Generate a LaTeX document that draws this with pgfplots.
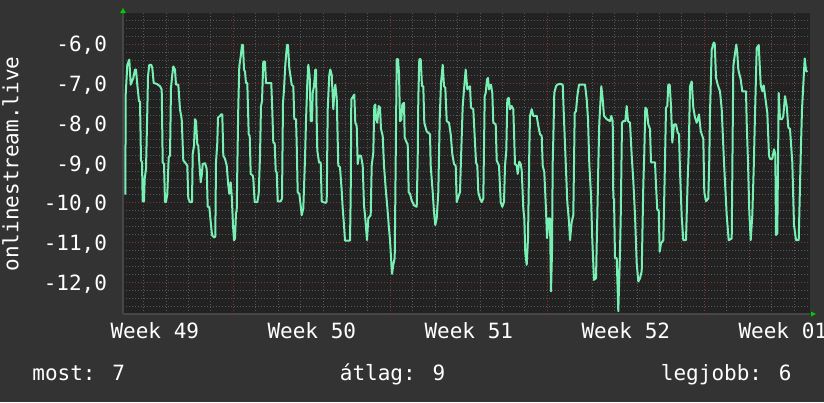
\documentclass[border=0pt]{standalone}
\usepackage{fontspec}
\setmainfont{DejaVu Sans Mono}
\usepackage{pgfplots}
\pgfplotsset{compat=1.18}

\definecolor{outerbg}{RGB}{51,51,51}
\definecolor{plotbg}{RGB}{34,34,34}
\definecolor{minorgrid}{RGB}{88,88,88}
\definecolor{majorgrid}{RGB}{125,55,55}
\definecolor{axisgray}{RGB}{70,70,70}
\definecolor{linecol}{RGB}{120,240,180}
\definecolor{arrowgreen}{RGB}{0,205,0}

\begin{document}
\fontsize{10.5}{13}\selectfont
\begin{tikzpicture}
% 1px = 0.5pt, page 824x402 px
\useasboundingbox (0,0) rectangle (412pt,201pt);
\fill[outerbg] (0,0) rectangle (412pt,201pt);

\begin{axis}[
  at={(61.5pt,44pt)}, anchor=south west,
  scale only axis, width=343.5pt, height=150.4pt,
  xmin=123, xmax=810, ymin=-12.8, ymax=-5.22,
  axis background/.style={fill=plotbg},
  axis x line*=bottom, axis y line*=left,
  axis line style={draw=axisgray, line width=1pt, -},
  xtick={154.8,311.8,468.8,625.8,782.8},
  xticklabels={Week 49,Week 50,Week 51,Week 52,Week 01},
  extra x ticks={233.3,390.3,547.3,704.3},
  extra x tick labels={},
  extra x tick style={grid=major},
  minor xtick={143.58,166.01,...,809},
  ytick={-12,-11,...,-6},
  yticklabels={{-12,0},{-11,0},{-10,0},{-9,0},{-8,0},{-7,0},{-6,0}},
  minor ytick={-12.6,-12.4,...,-5.3},
  xmajorgrids=false, ymajorgrids, yminorgrids, xminorgrids,
  major grid style={draw=majorgrid, line width=0.5pt, dash pattern=on 0.5pt off 1pt},
  minor grid style={draw=minorgrid, line width=0.5pt, dash pattern=on 0.5pt off 1pt},
  major tick length=0pt, minor tick length=0pt,
  tick style={draw=none},
  xticklabel style={anchor=base, inner sep=0pt, yshift=-12pt, text=white},
  yticklabel style={anchor=east, inner sep=0pt, text depth=0pt, xshift=-7.8pt, text=white},
]
\addplot[linecol, line width=1pt, line join=round] coordinates {
(125.3,-9.79)(125.7,-7.27)(127.3,-6.52)(129.3,-6.39)(130.7,-7.02)(133.3,-6.85)(135,-6.64)(136,-6.64)(137.3,-7.02)(139,-7.44)(140,-7.44)(141,-8.93)(142,-8.98)(142.7,-9.96)(144,-9.96)(144.7,-9.39)(146,-9.14)(147.3,-7.69)(148,-6.81)(149.3,-6.52)(151.3,-6.52)(152.3,-6.6)(153.7,-6.98)(156.7,-7.0)(160,-7.06)(161.7,-7.14)(162.7,-8.98)(164,-9.02)(165,-9.98)(166,-9.98)(167.3,-9.77)(168.7,-8.85)(170,-8.81)(171,-7.1)(172.3,-6.77)(173.3,-6.56)(175,-6.64)(176,-7.02)(178.3,-7.02)(180,-7.64)(181.7,-7.89)(183.3,-8.93)(185,-8.98)(187.3,-9.06)(188.3,-9.89)(190,-9.98)(192,-9.98)(192.7,-8.77)(194,-8.56)(195,-7.89)(196,-7.94)(197.3,-8.52)(198.3,-8.56)(199.3,-8.98)(200.7,-9.48)(201.7,-9.31)(202.7,-9.02)(205,-9.0)(206.7,-9.14)(207.7,-10.1)(209.3,-10.1)(211,-10.56)(212,-10.81)(214,-10.87)(215.3,-10.85)(216,-8.98)(217.3,-8.48)(218,-7.85)(220,-7.81)(221,-7.77)(222.3,-7.77)(223.3,-8.81)(225,-8.89)(226.7,-9.06)(228.3,-9.56)(229.3,-9.77)(230.7,-9.48)(231.7,-9.81)(233,-10.56)(234,-10.94)(235,-10.9)(236,-10.23)(236.7,-10.23)(237.3,-9.14)(238.3,-7.56)(239.3,-6.56)(240.7,-6.31)(242,-6.02)(243,-6.02)(244,-6.64)(245,-6.69)(246,-6.98)(247.3,-6.98)(248.7,-8.27)(249.7,-8.31)(250.7,-9.27)(252.7,-9.31)(253.3,-9.39)(254.7,-9.98)(257.3,-9.98)(258.7,-9.77)(260,-8.81)(261,-7.56)(262,-7.44)(263.3,-6.44)(265,-6.44)(266,-6.98)(271.3,-6.98)(272.3,-7.69)(273.3,-8.48)(274.7,-8.5)(275.7,-9.19)(276.7,-9.23)(277.7,-9.96)(280.7,-9.96)(282,-9.89)(283,-7.48)(284,-7.14)(285.3,-6.52)(287,-6.02)(288,-6.02)(289.3,-6.6)
(291.7,-7.02)(293.3,-7.06)(294.3,-7.89)(296,-7.89)(296.7,-8.52)(297.7,-9.73)(299.3,-9.77)(300.3,-9.98)(301.7,-10.31)(303.3,-10.14)(305,-8.89)(306,-7.94)(307.3,-6.98)(308.3,-6.52)(309.7,-6.81)(310.7,-7.94)(312,-7.94)(312.7,-7.23)(314,-7.06)(315.3,-6.64)(316,-6.64)(316.7,-7.94)(317.3,-8.68)(319,-8.98)(320.7,-8.98)(321.7,-9.96)(323.3,-9.98)(325.7,-10.0)(326.7,-9.96)(327.7,-7.64)(329.3,-6.77)(330.3,-6.64)(331.7,-6.77)(333.3,-7.64)(334.3,-7.23)(335.3,-7.02)(336.7,-7.35)(338.3,-9.06)(340,-9.1)(341.7,-9.69)(342.7,-10.14)(344,-10.56)(345,-10.95)(350,-10.95)(350.7,-9.81)(351.3,-7.39)(353.3,-7.31)(354.3,-7.27)(355.3,-7.98)(356.7,-8.06)(357.7,-9.02)(359,-8.81)(361,-8.81)(362.7,-9.06)(364,-10.06)(365.3,-10.39)(367,-10.94)(368.3,-10.39)(370.7,-10.31)(371.7,-9.06)(373.3,-8.73)(374.3,-7.56)(375.3,-7.52)(376,-7.89)(377.3,-7.98)(378.7,-7.56)(380,-7.6)(381,-8.14)(382.7,-8.31)(384,-9.06)(385.7,-9.64)(387.3,-10.1)(388.7,-10.56)(390,-10.94)(392,-11.79)(393.3,-11.56)(394.7,-11.39)(395.7,-8.93)(396.7,-6.38)(398,-6.38)(399,-6.73)(400,-7.94)(401.3,-7.9)(402.3,-7.52)(404,-7.48)(404.7,-8.35)(406.7,-8.48)(407.7,-8.52)(408.7,-9.73)(410,-9.77)(411.7,-9.94)(414,-10.06)(416.7,-10.1)(417.7,-8.89)(418.3,-7.39)(419.3,-6.38)(420.7,-6.38)(422,-7.06)(423.3,-7.06)(424.3,-7.98)(426.7,-8.2)(430,-8.27)(430.7,-9.06)(432.7,-9.73)(434,-10.23)(435.3,-10.56)(436.7,-10.39)(438.3,-9.73)(439.7,-7.89)(441,-6.98)(442.7,-6.52)(444,-7.06)(445.3,-7.1)(446.7,-7.94)(449,-7.98)(450.7,-8.27)(452.3,-8.77)(454,-9.02)(455.7,-9.06)(456.7,-9.98)(458.3,-9.85)(460,-9.73)(461,-8.89)(462.7,-7.56)(464,-7.14)(465.7,-6.64)(467.3,-7.14)(470,-7.06)
(471,-7.6)(473.3,-7.64)(474.3,-8.14)(476,-8.98)(477.3,-9.06)(478.3,-9.73)(480,-9.89)(481.7,-9.98)(483.3,-9.89)(484.7,-7.31)(485.7,-7.23)(487,-6.89)(488,-6.85)(489,-7.14)(491,-7.02)(492.3,-7.23)(493.3,-7.98)(495.7,-8.02)(496.7,-8.93)(499,-9.06)(500.7,-9.98)(502.3,-10.1)(504,-9.98)(505,-9.06)(506.3,-8.68)(507.3,-7.39)(508.7,-7.35)(510,-7.64)(511.7,-7.56)(513.3,-7.64)(515,-9.02)(516.7,-9.06)(517.7,-9.27)(519.3,-8.96)(520.7,-9.02)(521.7,-9.18)(523.3,-10.14)(524.3,-10.39)(525.3,-11.27)(526.7,-11.56)(528,-10.89)(529.3,-8.68)(530,-7.81)(531.7,-7.64)(533.3,-7.81)(536.7,-7.81)(538.3,-8.06)(540,-8.27)(541.7,-8.31)(542.7,-9.06)(544.3,-9.23)(546,-10.18)(547,-10.89)(548.7,-10.39)(550,-10.39)(551,-12.23)(552,-11.23)(552.7,-8.98)(553.3,-8.39)(554.3,-7.23)(556,-7.06)(557.3,-7.02)(560,-7.0)(562.7,-7.02)(564,-7.89)(565.7,-8.98)(567.3,-9.98)(569,-10.48)(570,-10.94)(571.7,-10.48)(573.3,-10.31)(574.7,-7.73)(576,-7.69)(577.3,-7.31)(579,-7.02)(585,-7.02)(586.7,-7.39)(588,-7.89)(589.3,-9.02)(591,-9.81)(592.3,-10.94)(594,-11.94)(596,-11.9)(597.7,-9.85)(598.3,-9.06)(599.3,-7.98)(601.3,-7.06)(602.7,-7.39)(604,-7.81)(606.7,-7.89)(610,-7.94)(611.3,-7.81)(612.7,-7.94)(613.3,-9.89)(614,-9.89)(615,-11.39)(616.7,-11.39)(618.3,-12.73)(620,-11.23)(620.7,-10.39)(622,-7.98)(623.3,-7.94)(625.3,-7.94)(626.7,-7.56)(628,-7.94)(630,-7.98)(631.7,-8.81)(633.3,-9.44)(635,-10.31)(636.7,-11.52)(638.3,-11.98)(640,-11.9)(641.7,-11.73)(643.3,-9.56)(644.3,-8.73)(645.3,-7.6)(646.7,-7.64)(648.3,-8.02)(650,-8.14)
(651,-8.98)(655,-8.98)(656,-9.56)(657.3,-10.18)(658.7,-10.18)(659.7,-11.23)(661,-11.02)(663.3,-10.94)(664.7,-9.31)(666,-7.6)(667.3,-7.56)(668.3,-7.02)(669.7,-7.02)(671,-7.56)(672.3,-8.48)(674,-8.02)(676,-8.02)(677.7,-8.23)(679,-8.27)(680,-9.19)(681.7,-10.35)(683.3,-10.94)(686,-10.94)(687.7,-9.39)(688.7,-8.73)(690,-7.06)(691.7,-6.94)(693.3,-7.6)(695,-7.85)(696.7,-7.98)(699,-7.77)(700.7,-8.19)(703.3,-8.39)(704.3,-9.73)(706,-9.96)(708.3,-9.89)(709.3,-8.89)(710,-7.73)(711.7,-6.14)(713.7,-5.96)(714.7,-5.98)(716,-6.85)(717.7,-7.02)(720,-7.19)(721.7,-7.64)(724,-8.98)(726.7,-10.31)(728.7,-10.94)(731.7,-10.9)(733.3,-6.56)(735,-6.23)(736.3,-6.01)(737.3,-6.23)(738.3,-6.64)(740.7,-6.89)(742.3,-7.19)(746,-7.19)(746.7,-7.98)(748,-8.98)(749.3,-10.23)(750.7,-10.94)(752.3,-10.31)(753.7,-9.14)(755,-7.77)(756.7,-6.1)(758.7,-6.02)(760.7,-7.02)(762.3,-7.19)(763.7,-7.04)(765.3,-7.35)(767.3,-7.73)(769,-8.81)(770,-8.89)(772.3,-8.89)(774,-8.65)(775.3,-8.77)(776,-10.81)(777.3,-10.77)(778.7,-7.23)(780,-7.89)(782,-7.89)(783.3,-7.81)(785,-7.31)(786.7,-7.56)(788.3,-8.1)(790,-8.14)(792.3,-8.98)(794,-10.56)(796,-10.94)(798.7,-10.94)(800.7,-8.81)(802,-7.64)(803.3,-7.02)(804.7,-6.36)(806,-6.66)(807.3,-6.7)
};
\end{axis}

% axis arrows
\fill[arrowgreen] (60pt,194.4pt) -- (63pt,194.4pt) -- (61.5pt,197pt) -- cycle;
\fill[arrowgreen] (405.5pt,42.8pt) -- (405.5pt,45.2pt) -- (408pt,44pt) -- cycle;

% vertical label and legend line
\node[rotate=90, anchor=base, inner sep=0pt, text=white] at (9.15pt,119pt) {onlinestream.live};
\node[anchor=base west, inner sep=0pt, text=white] at (16pt,10.6pt) {most: 7};
\node[anchor=base, inner sep=0pt, text=white] at (196.3pt,10.6pt) {átlag: 9};
\node[anchor=base east, inner sep=0pt, text=white] at (396pt,10.6pt) {legjobb: 6};
\end{tikzpicture}
\end{document}
